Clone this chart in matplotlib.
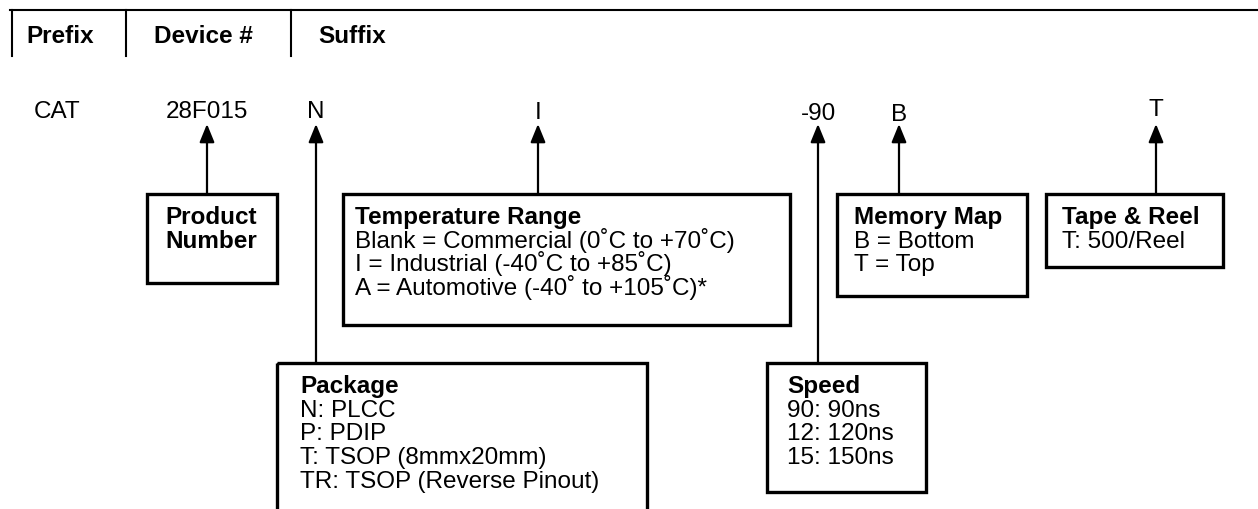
import matplotlib
matplotlib.use("Agg")
import matplotlib.pyplot as plt
from matplotlib.patches import Rectangle

plt.rcParams['font.family'] = ['Liberation Sans', 'DejaVu Sans']

# header columns of the ordering table
header_labels = ["Prefix", "Device #", "Suffix"]
header_x = [26, 154, 318]
header_dividers = [12, 126, 291]

# part number pieces and where they sit (baseline)
code_parts = ["CAT", "28F015", "N", "I", "-90", "B", "T"]
code_x = [57, 207, 316, 538, 818, 899, 1156]
code_y = [118, 118, 118, 119, 120, 121, 116]

# legend boxes: title, lines, the code piece they point at
box_titles = ["Product\nNumber", "Temperature Range", "Package", "Speed",
              "Memory Map", "Tape & Reel"]
box_lines = [
    [],
    ["Blank = Commercial (0˚C to +70˚C)",
     "I = Industrial (-40˚C to +85˚C)",
     "A = Automotive (-40˚ to +105˚C)*"],
    ["N: PLCC", "P: PDIP", "T: TSOP (8mmx20mm)", "TR: TSOP (Reverse Pinout)"],
    ["90: 90ns", "12: 120ns", "15: 150ns"],
    ["B = Bottom", "T = Top"],
    ["T: 500/Reel"],
]
box_target = ["28F015", "I", "N", "-90", "B", "T"]
# left, top, right, bottom in pixels
box_rect = [
    (147, 194, 277, 283),
    (343, 194, 790, 325),
    (277, 363, 647, 520),
    (767, 363, 926, 492),
    (837, 194, 1027, 296),
    (1046, 194, 1223, 267),
]
box_text_x = [165, 355, 300, 787, 854, 1062]

fig = plt.figure(figsize=(12.58, 5.09), dpi=100)
ax = fig.add_axes([0, 0, 1, 1])
ax.set_xlim(0, 1258)
ax.set_ylim(509, 0)
ax.axis('off')

fs = 17.5
line_h = 23.7

# header
ax.plot([10, 1258], [10, 10], color='black', lw=1.5)
for xd in header_dividers:
    ax.plot([xd, xd], [10, 56], color='black', lw=1.5)
for lab, x in zip(header_labels, header_x):
    ax.text(x, 43, lab, fontsize=fs, fontweight='bold', ha='left', va='baseline')

# code pieces
for part, x, y in zip(code_parts, code_x, code_y):
    ax.text(x, y, part, fontsize=fs, ha='center', va='baseline')

# boxes with arrows
for title, lines, target, rect, tx in zip(box_titles, box_lines, box_target,
                                          box_rect, box_text_x):
    l, t, r, b = rect
    ax.add_patch(Rectangle((l, t), r - l, b - t, fill=False, ec='black',
                           lw=2.4, clip_on=True))
    ax_x = code_x[code_parts.index(target)]
    ax.plot([ax_x, ax_x], [t, 140], color='black', lw=1.6)
    ax.annotate("", xy=(ax_x, 124), xytext=(ax_x, 143),
                arrowprops=dict(arrowstyle='-|>,head_length=1.1,head_width=0.45',
                                color='black', lw=1.6, shrinkA=0, shrinkB=0))
    y = t + 30
    for part in title.split("\n"):
        ax.text(tx, y, part, fontsize=fs, fontweight='bold', ha='left', va='baseline')
        y += line_h
    for ln in lines:
        ax.text(tx, y, ln, fontsize=fs, ha='left', va='baseline')
        y += line_h

fig.savefig("out.png", dpi=100, facecolor='white')
